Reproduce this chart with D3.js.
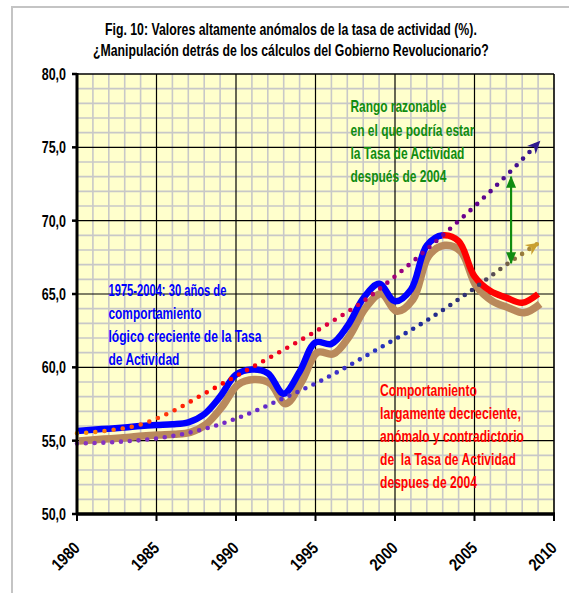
<!DOCTYPE html>
<html><head><meta charset="utf-8">
<script src="https://cdn.jsdelivr.net/npm/d3@7"></script>
<style>html,body{margin:0;padding:0;background:#fff;}svg{display:block;}text{white-space:pre;}</style>
</head><body>
<div id="chart"></div>
<script>
// ---------- DATA ----------
const years = [1980,1981,1982,1983,1984,1985,1986,1987,1988,1989,1990,1991,1992,1993,1994,1995,1996,1997,1998,1999,2000,2001,2002,2003,2004,2005,2006,2007,2008,2009];
const tasa  = [55.66,55.75,55.82,55.9,56.0,56.07,56.12,56.25,56.8,58.0,59.5,59.85,59.6,58.2,59.7,61.7,61.6,62.8,64.7,65.7,64.5,65.3,68.3,69.0,68.6,66.2,65.2,64.75,64.4,65.0];
const splitYear = 2003;   // blue up to here, red afterwards

const trendUpperYears  = [1980,1982,1984,1986,1988,1990,1993,1996,1998,2000,2003,2006,2009.1];
const trendUpperValues = [55.5,55.7,56.1,57.0,58.2,59.4,61.2,63.1,64.5,66.2,69.0,72.0,75.4];
const trendLowerYears  = [1980,1983,1985,1988,1990,1993,1995,1999,2002,2005,2007,2009];
const trendLowerValues = [54.8,54.95,55.15,55.8,56.5,57.9,58.9,61.3,63.2,65.4,67.0,68.45];

const rangeYear = 2007.3;
const rangeValues = [73.0, 67.1];

const yTicks = [50,55,60,65,70,75,80];
const yTickLabels = ["50,0","55,0","60,0","65,0","70,0","75,0","80,0"];
const xTicks = [1980,1985,1990,1995,2000,2005,2010];
const xTickLabels = ["1980","1985","1990","1995","2000","2005","2010"];

const titleLines = ["Fig. 10: Valores altamente anómalos de la tasa de actividad (%).",
                    "¿Manipulación detrás de los cálculos del Gobierno Revolucionario?"];
const greenLines = ["Rango razonable","en el que podría estar","la Tasa de Actividad","después de 2004"];
const blueLines  = ["1975-2004: 30 años de","comportamiento","lógico creciente de la Tasa","de Actividad"];
const redLines   = ["Comportamiento","largamente decreciente,","anómalo y contradictorio","de  la Tasa de Actividad","despues de 2004"];

// ---------- LAYOUT / STYLE ----------
const W = 569, H = 593;
const P = {left:77, right:554, top:74, bottom:514};
const FONT = "'Liberation Sans', Arial, sans-serif";
const titleLayout = {x:[105,93], y:[35,56], len:[372,396]};
const greenLayout = {x:[350.5,350.5,350.5,350.5], y:[112,135.5,159,182], len:[96,124,114,96]};
const blueLayout  = {x:[108.5,108.5,108.5,108.5], y:[296,319,342,365], len:[118,93,153,71]};
const redLayout   = {x:[380,380,380,380,380], y:[396,419,442,465,488], len:[97,141,144,136,97]};

const svg = d3.select("#chart").append("svg").attr("width", W).attr("height", H);
const defs = svg.append("defs");

const x = d3.scaleLinear().domain([1980,2010]).range([P.left, P.right]);
const y = d3.scaleLinear().domain([50,80]).range([P.bottom, P.top]);

// text helper: draw at natural size then squeeze horizontally to target width
function fitText(parent, str, tx, ty, target, color, rotate, anchor, size){
  const t = parent.append("text").attr("x",0).attr("y",0)
    .attr("font-family",FONT).attr("font-weight","bold").attr("font-size",size||16)
    .attr("fill",color).attr("text-anchor",anchor||"start").text(str);
  const nat = t.node().getComputedTextLength();
  const sx = target / nat;
  t.attr("transform",`translate(${tx},${ty})${rotate?` rotate(${rotate})`:""} scale(${sx},1)`);
  return t;
}

// outer frame
svg.append("rect").attr("x",12).attr("y",7).attr("width",600).attr("height",620)
  .attr("fill","#fff").attr("stroke","#c4c4c4").attr("stroke-width",2);

// plot background
svg.append("rect").attr("x",P.left).attr("y",P.top).attr("width",P.right-P.left).attr("height",P.bottom-P.top)
  .attr("fill","#FFFFCC");

// grid
const g = svg.append("g");
const minorX = d3.range(1981,2010).filter(v => v % 5 !== 0);
const minorY = d3.range(51,80).filter(v => v % 5 !== 0);
g.selectAll(".mx").data(minorX).enter().append("line")
  .attr("x1",d=>x(d)).attr("x2",d=>x(d)).attr("y1",P.top).attr("y2",P.bottom)
  .attr("stroke","#c8c8c8").attr("stroke-width",1.6);
g.selectAll(".my").data(minorY).enter().append("line")
  .attr("y1",d=>y(d)).attr("y2",d=>y(d)).attr("x1",P.left).attr("x2",P.right)
  .attr("stroke","#c8c8c8").attr("stroke-width",1.6);
g.selectAll(".Mx").data(xTicks.slice(1,-1)).enter().append("line")
  .attr("x1",d=>x(d)).attr("x2",d=>x(d)).attr("y1",P.top).attr("y2",P.bottom)
  .attr("stroke","#000").attr("stroke-width",1.2);
g.selectAll(".My").data(yTicks.slice(1,-1)).enter().append("line")
  .attr("y1",d=>y(d)).attr("y2",d=>y(d)).attr("x1",P.left).attr("x2",P.right)
  .attr("stroke","#000").attr("stroke-width",1.2);
g.append("line").attr("x1",P.left).attr("x2",P.right).attr("y1",P.top).attr("y2",P.top).attr("stroke","#000").attr("stroke-width",1.6);
g.append("line").attr("x1",P.right).attr("x2",P.right).attr("y1",P.top).attr("y2",P.bottom).attr("stroke","#000").attr("stroke-width",1.6);

// gradients
function grad(id, stops){
  const lg = defs.append("linearGradient").attr("id",id).attr("gradientUnits","userSpaceOnUse")
    .attr("x1",x(1980)).attr("x2",x(2009.2)).attr("y1",0).attr("y2",0);
  stops.forEach(s => lg.append("stop").attr("offset",s[0]).attr("stop-color",s[1]));
}
grad("gUp",[[0,"#FF9A00"],[0.15,"#FF4A10"],[0.3,"#FF0000"],[0.5,"#E8002C"],[0.62,"#C4005E"],[0.72,"#8C0088"],[0.85,"#66008F"],[1,"#2E1A8E"]]);
grad("gLo",[[0,"#8A35C0"],[0.35,"#7028C8"],[0.5,"#4B30CC"],[0.65,"#2633C0"],[0.76,"#202A90"],[0.85,"#34346E"],[0.92,"#6A5A48"],[1,"#C9A030"]]);

function marker(id, color){
  defs.append("marker").attr("id",id).attr("markerUnits","userSpaceOnUse")
    .attr("viewBox","-14 -8 16 16").attr("refX",0).attr("refY",0)
    .attr("markerWidth",16).attr("markerHeight",16).attr("orient","auto-start-reverse")
    .append("path").attr("d","M1,0 L-12,-6 L-8,0 L-12,6 Z").attr("fill",color);
}
marker("mUp","#2E1A8E");
marker("mLo","#C9A030");
defs.append("marker").attr("id","mGreen").attr("markerUnits","userSpaceOnUse")
  .attr("viewBox","-12 -6 14 12").attr("refX",0).attr("refY",0)
  .attr("markerWidth",14).attr("markerHeight",12).attr("orient","auto-start-reverse")
  .append("path").attr("d","M1,0 L-11,-5 L-11,5 Z").attr("fill","#108C10");

// clip paths for blue / red segments
defs.append("clipPath").attr("id","cBlue").append("rect").attr("x",0).attr("y",0).attr("width",x(splitYear)).attr("height",H);
defs.append("clipPath").attr("id","cRed").append("rect").attr("x",x(splitYear)).attr("y",0).attr("width",W).attr("height",H);

const lineGen = d3.line().x((d,i)=>x(years[i])).y(d=>y(d)).curve(d3.curveCatmullRom.alpha(0.5));
const mainPath = lineGen(tasa);

// shadow + main line
svg.append("path").attr("d",mainPath).attr("fill","none").attr("stroke","#B9895C").attr("stroke-width",7.5)
  .attr("transform","translate(2,10)");
svg.append("path").attr("d",mainPath).attr("fill","none").attr("stroke","#0000FF").attr("stroke-width",6.5).attr("clip-path","url(#cBlue)");
svg.append("path").attr("d",mainPath).attr("fill","none").attr("stroke","#FF0000").attr("stroke-width",6.5).attr("clip-path","url(#cRed)");

// trend dotted lines
const trendGen = (ys) => d3.line().x((d,i)=>x(ys[i])).y(d=>y(d)).curve(d3.curveMonotoneX);
svg.append("path").attr("d",trendGen(trendLowerYears)(trendLowerValues)).attr("fill","none")
  .attr("stroke","url(#gLo)").attr("stroke-width",4.6).attr("stroke-linecap","round").attr("stroke-dasharray","0 8.8")
  .attr("marker-end","url(#mLo)");
svg.append("path").attr("d",trendGen(trendUpperYears)(trendUpperValues)).attr("fill","none")
  .attr("stroke","url(#gUp)").attr("stroke-width",4.6).attr("stroke-linecap","round").attr("stroke-dasharray","0 9.2")
  .attr("marker-end","url(#mUp)");

// green range arrow
svg.append("line").attr("x1",x(rangeYear)).attr("x2",x(rangeYear)).attr("y1",y(rangeValues[0])).attr("y2",y(rangeValues[1]))
  .attr("stroke","#108C10").attr("stroke-width",2.2).attr("marker-start","url(#mGreen)").attr("marker-end","url(#mGreen)");

// axes lines
svg.append("line").attr("x1",P.left).attr("x2",P.left).attr("y1",P.top-1).attr("y2",P.bottom+1).attr("stroke","#000").attr("stroke-width",3);
svg.append("line").attr("x1",P.left-1).attr("x2",P.right+1).attr("y1",P.bottom).attr("y2",P.bottom).attr("stroke","#000").attr("stroke-width",3.5);
svg.selectAll(".yt").data(yTicks).enter().append("line")
  .attr("x1",P.left-5).attr("x2",P.left).attr("y1",d=>y(d)).attr("y2",d=>y(d)).attr("stroke","#000").attr("stroke-width",2.5);
svg.selectAll(".xt").data(xTicks).enter().append("line")
  .attr("x1",d=>x(d)).attr("x2",d=>x(d)).attr("y1",P.bottom).attr("y2",P.bottom+7).attr("stroke","#000").attr("stroke-width",2);

// tick labels
yTicks.forEach((v,i)=> fitText(svg, yTickLabels[i], 41.7, y(v)+6, 24.3, "#000"));
xTicks.forEach((v,i)=> fitText(svg, xTickLabels[i], x(v)+4, P.bottom+35, 32, "#000", -45, "end", 17));

// title & annotations
titleLines.forEach((t,i)=> fitText(svg, t, titleLayout.x[i], titleLayout.y[i], titleLayout.len[i], "#000"));
function block(lines, lay, color){
  lines.forEach((t,i)=> fitText(svg, t, lay.x[i], lay.y[i], lay.len[i], color));
}
block(greenLines, greenLayout, "#108C10");
block(blueLines, blueLayout, "#0000FF");
block(redLines, redLayout, "#FF0000");
</script>
</body></html>
